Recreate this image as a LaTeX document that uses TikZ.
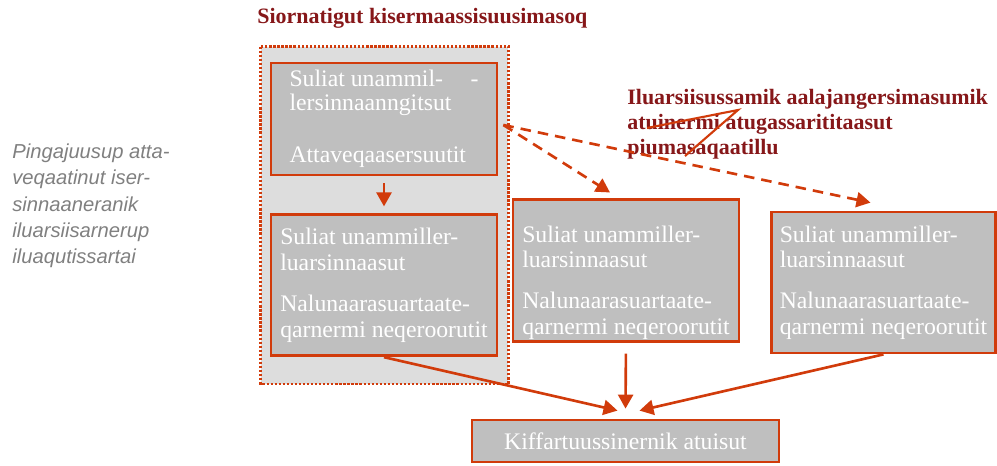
\documentclass[tikz,border=0pt]{standalone}
\usepackage{fontspec}
\setmainfont{Liberation Serif}
\setsansfont{Liberation Sans}
\usetikzlibrary{arrows.meta,positioning,calc,backgrounds}
\definecolor{edge}{HTML}{D13B0B}
\definecolor{boxfill}{HTML}{BFBFBF}
\definecolor{groupfill}{HTML}{DDDDDD}
\definecolor{titlered}{HTML}{861719}
\definecolor{side}{HTML}{808080}
\tikzset{
  >=Latex,
  box/.style={draw=edge,line width=1.6pt,fill=boxfill,minimum width=45.2mm,minimum height=28.2mm,align=left,inner sep=1pt,text=white,font=\fontsize{13.5}{14.5}\selectfont},
  topbox/.style={box,minimum height=22.4mm},
  userbox/.style={box,minimum width=61.4mm,minimum height=8.4mm},
  groupbox/.style={draw=edge,line width=1.3pt,densely dotted,fill=groupfill},
  flow/.style={-{Triangle[length=2.8mm,width=3mm]},line width=1.5pt,draw=edge},
  dashflow/.style={flow,dash pattern=on 6pt off 4pt},
  callout/.style={draw=edge,line width=1.2pt},
  heading/.style={font=\fontsize{12.5}{14.2}\selectfont\bfseries,text=titlered,inner sep=0pt,align=left},
  sidenote/.style={font=\sffamily\itshape\fontsize{11.5}{14.8}\selectfont,text=side,inner sep=0pt,align=left},
}

\begin{document}
\begin{tikzpicture}[x=0.02cm,y=-0.02cm]
\useasboundingbox (0,0) rectangle (997,466);

\node[heading,anchor=base west] (title) at (257,24) {Siornatigut kisermaassisuusimasoq};

\node[topbox] (a) at (384,119)
{\makebox[37.8mm][l]{Suliat unammil-\hfill-}\\[-1pt]lersinnaanngitsut\\[15pt]Attaveqaasersuutit};
\node[box,below=7.4mm of a] (b)
{Suliat unammiller-\\luarsinnaasut\\[9pt]Nalunaarasuartaate-\\qarnermi neqeroorutit};
\node[box] (c) at (626,270.5)
{\rule{0pt}{23pt}Suliat unammiller-\\luarsinnaasut\\[9pt]Nalunaarasuartaate-\\qarnermi neqeroorutit};
\node[box,minimum width=44.8mm] (d) at (883.5,282.5)
{Suliat unammiller-\\luarsinnaasut\\[9pt]Nalunaarasuartaate-\\qarnermi neqeroorutit};
\node[userbox] (e) at (625.5,441) {Kiffartuussinernik atuisut};

\begin{scope}[on background layer]
\draw[groupbox] ($(a.north west)+(-9,-15)$) rectangle ($(b.south east)+(10,27)$);
\end{scope}

\node[sidenote,anchor=north west] (side) at (12,144)
{Pingajuusup atta-\\veqaatinut iser-\\sinnaaneranik\\iluarsiisarnerup\\iluaqutissartai};

\node[heading,anchor=north west] (note) at (627,89)
{Iluarsiisussamik aalajangersimasumik\\atuinermi atugassarititaasut\\piumasaqaatillu};

% arrows
\draw[flow,shorten <=1.4mm,shorten >=1.4mm] (a.south) -- (b.north);
\draw[flow] (b.south) -- ($(e.north)+(-8,-8)$);
\draw[flow,shorten <=2.2mm] (c.south) -- ($(e.north)+(0,-10)$);
\draw[flow] (d.south) -- ($(e.north)+(14,-8)$);

\draw[dashflow] ($(a.east)+(5,6)$) -- ($(c.north)+(-16,-6)$);
\draw[dashflow] ($(a.east)+(5,6)$) -- ($(d.north)+(-13,-8)$);

% callout pointer
\coordinate (p1) at (647,128);
\coordinate (p2) at (738,110);
\coordinate (p3) at (685,156);
\draw[callout] (p1) -- (p2) -- (p3);

\end{tikzpicture}
\end{document}
